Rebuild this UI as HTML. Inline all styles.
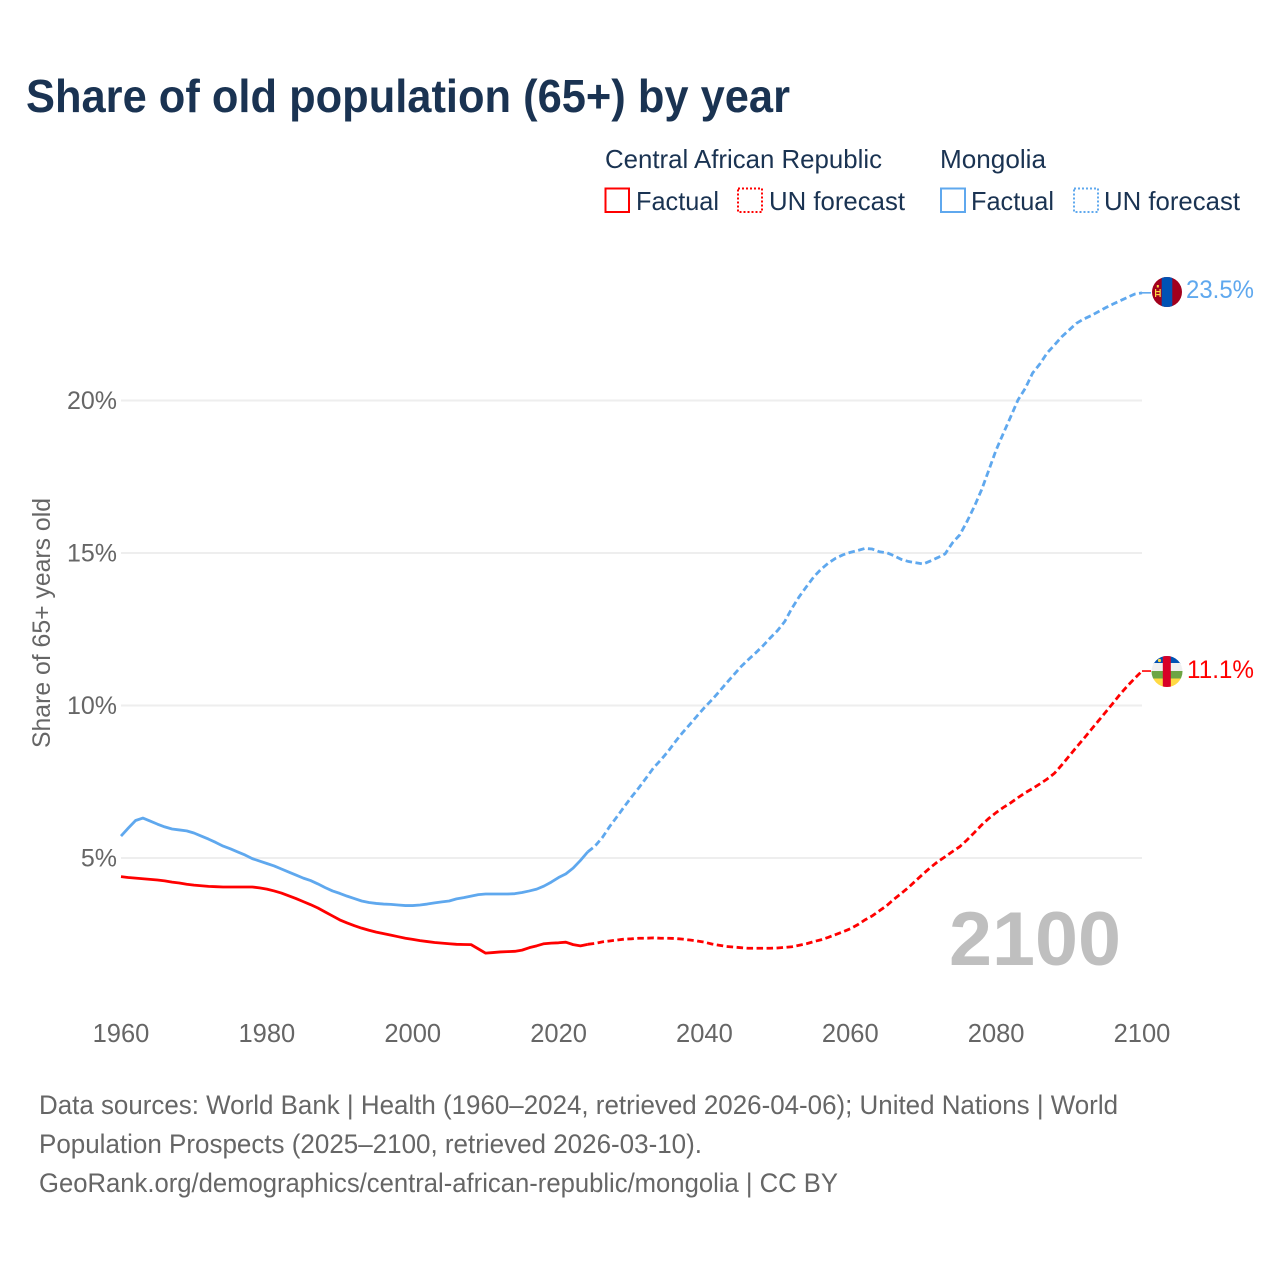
<!DOCTYPE html>
<html lang="en">
<head>
<meta charset="utf-8">
<title>Share of old population (65+) by year</title>
<style>
html,body{margin:0;padding:0;background:#fff;}
svg{display:block;}
text{font-family:"Liberation Sans",sans-serif;}
</style>
</head>
<body>
<svg id="chart" xmlns="http://www.w3.org/2000/svg" width="1280" height="1280" viewBox="0 0 1280 1280">
  <rect width="1280" height="1280" fill="#ffffff"/>
  <text x="26" y="112" font-size="46" font-weight="700" fill="#1a3352" textLength="764" lengthAdjust="spacingAndGlyphs">Share of old population (65+) by year</text>

  <g font-size="26" fill="#1a3352">
    <text x="605" y="168" textLength="277" lengthAdjust="spacingAndGlyphs">Central African Republic</text>
    <text x="940" y="168" textLength="106" lengthAdjust="spacingAndGlyphs">Mongolia</text>
    <rect x="605.5" y="188.5" width="23.5" height="23.5" fill="none" stroke="#ff0000" stroke-width="2"/>
    <text x="636" y="210" textLength="83" lengthAdjust="spacingAndGlyphs">Factual</text>
    <rect x="738" y="188.5" width="24" height="23.5" fill="none" stroke="#ff0000" stroke-width="2" stroke-dasharray="2 2"/>
    <text x="769" y="210" textLength="136" lengthAdjust="spacingAndGlyphs">UN forecast</text>
    <rect x="941" y="188.5" width="24" height="23.5" fill="none" stroke="#5fa8ee" stroke-width="2"/>
    <text x="971" y="210" textLength="83" lengthAdjust="spacingAndGlyphs">Factual</text>
    <rect x="1074" y="188.5" width="24" height="23.5" fill="none" stroke="#5fa8ee" stroke-width="2" stroke-dasharray="2 2"/>
    <text x="1104" y="210" textLength="136" lengthAdjust="spacingAndGlyphs">UN forecast</text>
  </g>

  <g id="grid"></g>
  <g id="yticks" font-size="25" fill="#666666" text-anchor="end"></g>
  <g id="xticks" font-size="25.5" fill="#666666" text-anchor="middle"></g>
  <text transform="translate(50 748) rotate(-90)" x="0" y="0" font-size="25" fill="#666666" textLength="250" lengthAdjust="spacingAndGlyphs">Share of 65+ years old</text>

  <text x="949" y="965" font-size="76" font-weight="700" fill="#bfbfbf" textLength="172" lengthAdjust="spacingAndGlyphs">2100</text>

  <g id="series"></g>

  <defs>
    <clipPath id="flag-clip-mn"><circle cx="1167" cy="292" r="15"/></clipPath>
    <clipPath id="flag-clip-cf"><circle cx="1167" cy="671.5" r="15.5"/></clipPath>
  </defs>

  <g clip-path="url(#flag-clip-mn)">
    <rect x="1150" y="275" width="34" height="34" fill="#a2001d"/>
    <rect x="1161.7" y="275" width="10.6" height="34" fill="#0052b4"/>
    <rect x="1155" y="289" width="1.2" height="8" fill="#ffda44"/>
    <rect x="1159.5" y="289" width="1.2" height="8" fill="#ffda44"/>
    <rect x="1156.2" y="291" width="3.3" height="1.2" fill="#ffda44"/>
    <rect x="1156.2" y="294" width="3.3" height="1.2" fill="#ffda44"/>
    <rect x="1156.8" y="285" width="2" height="2.5" fill="#ffda44"/>
  </g>
  <g clip-path="url(#flag-clip-cf)">
    <rect x="1150" y="655" width="34" height="9" fill="#0052b4"/>
    <rect x="1150" y="663" width="34" height="8" fill="#f0f0f0"/>
    <rect x="1150" y="671" width="34" height="8" fill="#6da544"/>
    <rect x="1150" y="678.5" width="34" height="10" fill="#ffda44"/>
    <rect x="1162.8" y="655" width="8" height="34" fill="#d80027"/>
    <circle cx="1159.5" cy="660.5" r="1.6" fill="#ffda44"/>
  </g>

  <text x="1186" y="298" font-size="25" fill="#5fa8ee" textLength="68" lengthAdjust="spacingAndGlyphs">23.5%</text>
  <text x="1187" y="678" font-size="25" fill="#ff0000" textLength="67" lengthAdjust="spacingAndGlyphs">11.1%</text>

  <g font-size="27" fill="#666666">
    <text x="39" y="1114" textLength="1079" lengthAdjust="spacingAndGlyphs">Data sources: World Bank | Health (1960–2024, retrieved 2026-04-06); United Nations | World</text>
    <text x="39" y="1153" textLength="663" lengthAdjust="spacingAndGlyphs">Population Prospects (2025–2100, retrieved 2026-03-10).</text>
    <text x="39" y="1192" textLength="799" lengthAdjust="spacingAndGlyphs">GeoRank.org/demographics/central-african-republic/mongolia | CC BY</text>
  </g>
</svg>

<script>
const yearTicks = [1960, 1980, 2000, 2020, 2040, 2060, 2080, 2100];
const percentTicks = [5, 10, 15, 20];
const factualStartYear = 1960;
const forecastStartYear = 2024;

const carFactual = [4.39,4.36,4.34,4.32,4.30,4.28,4.25,4.21,4.18,4.14,
  4.11,4.09,4.07,4.06,4.05,4.05,4.05,4.05,4.05,4.02,
  3.98,3.92,3.85,3.76,3.67,3.57,3.47,3.36,3.23,3.10,
  2.97,2.87,2.78,2.70,2.63,2.57,2.52,2.47,2.42,2.37,
  2.33,2.29,2.26,2.23,2.21,2.19,2.17,2.165,2.16,2.02,
  1.88,1.90,1.92,1.93,1.94,1.98,2.06,2.12,2.19,2.21,
  2.22,2.24,2.16,2.12,2.17];

const carForecast = [2.17,2.20,2.25,2.28,2.31,2.34,2.35,2.37,2.37,2.38,2.37,2.37,2.36,2.34,2.31,2.28,
  2.24,2.18,2.14,2.10,2.08,2.06,2.04,2.04,2.04,2.04,
  2.05,2.07,2.09,2.14,2.19,2.26,2.32,2.40,2.49,2.58,
  2.68,2.81,2.97,3.10,3.27,3.44,3.65,3.84,4.04,4.26,
  4.48,4.69,4.88,5.04,5.21,5.37,5.59,5.83,6.08,6.30,
  6.49,6.66,6.81,6.98,7.14,7.28,7.43,7.59,7.78,8.05,
  8.34,8.63,8.91,9.20,9.49,9.78,10.07,10.37,10.64,10.89,11.13];

const mongoliaFactual = [5.72,5.98,6.23,6.31,6.21,6.11,6.02,5.95,5.92,5.89,
  5.82,5.72,5.62,5.51,5.39,5.30,5.20,5.10,4.98,4.90,
  4.82,4.74,4.64,4.54,4.44,4.34,4.26,4.15,4.03,3.92,
  3.84,3.75,3.67,3.59,3.54,3.51,3.49,3.48,3.46,3.44,
  3.44,3.46,3.49,3.53,3.56,3.59,3.66,3.70,3.75,3.80,
  3.82,3.82,3.82,3.82,3.83,3.87,3.92,3.98,4.08,4.21,
  4.36,4.48,4.67,4.92,5.20];

const mongoliaForecast = [5.20,5.39,5.67,6.03,6.35,6.68,7.00,7.30,7.62,7.95,8.21,8.49,8.81,9.11,9.38,9.66,
  9.93,10.18,10.45,10.73,11.00,11.27,11.50,11.72,11.95,12.21,
  12.45,12.75,13.19,13.57,13.90,14.22,14.47,14.67,14.83,14.94,
  15.02,15.08,15.15,15.13,15.04,15.01,14.91,14.79,14.72,14.68,
  14.64,14.74,14.85,14.97,15.33,15.59,16.03,16.52,17.07,17.72,
  18.38,18.93,19.47,20.02,20.40,20.90,21.20,21.56,21.82,22.09,
  22.31,22.53,22.67,22.78,22.91,23.04,23.16,23.27,23.38,23.49,23.53];

const SVG_NS = 'http://www.w3.org/2000/svg';
function xScale(year) { return 121 + (year - 1960) * (1142 - 121) / 140; }
function yScale(pct) { return 1010.5 - 30.5 * pct; }
function linePath(values, startYear) {
  return values.map(function (v, i) {
    return (i ? 'L' : 'M') + xScale(startYear + i).toFixed(2) + ' ' + yScale(v).toFixed(2);
  }).join(' ');
}
function connectorPath(values) {
  const y = yScale(values[values.length - 1]).toFixed(2);
  return 'M' + xScale(2100).toFixed(2) + ' ' + y + ' L' + (xScale(2100) + 9) + ' ' + y;
}

const gridGroup = document.getElementById('grid');
const yTickGroup = document.getElementById('yticks');
percentTicks.forEach(function (p) {
  const line = document.createElementNS(SVG_NS, 'line');
  
  
  line.setAttribute('x1', xScale(1960));
  line.setAttribute('x2', xScale(2100));
  line.setAttribute('y1', yScale(p));
  line.setAttribute('y2', yScale(p));
  line.setAttribute('stroke', '#eeeeee');
  line.setAttribute('stroke-width', '2');
  gridGroup.appendChild(line);

  const label = document.createElementNS(SVG_NS, 'text');
  
  
  label.setAttribute('x', 117);
  label.setAttribute('y', yScale(p) + 8.5);
  label.textContent = p + '%';
  yTickGroup.appendChild(label);
});

const xTickGroup = document.getElementById('xticks');
yearTicks.forEach(function (y) {
  const label = document.createElementNS(SVG_NS, 'text');
  
  
  label.setAttribute('x', xScale(y));
  label.setAttribute('y', 1042);
  label.textContent = y;
  xTickGroup.appendChild(label);
});

const seriesGroup = document.getElementById('series');

const carFactualLine = document.createElementNS(SVG_NS, 'path');


carFactualLine.setAttribute('d', linePath(carFactual, factualStartYear));
carFactualLine.setAttribute('fill', 'none');
carFactualLine.setAttribute('stroke', '#ff0000');
carFactualLine.setAttribute('stroke-width', '2.8');
carFactualLine.setAttribute('stroke-linejoin', 'round');
seriesGroup.appendChild(carFactualLine);

const carForecastLine = document.createElementNS(SVG_NS, 'path');


carForecastLine.setAttribute('d', linePath(carForecast, forecastStartYear));
carForecastLine.setAttribute('fill', 'none');
carForecastLine.setAttribute('stroke', '#ff0000');
carForecastLine.setAttribute('stroke-width', '2.8');
carForecastLine.setAttribute('stroke-dasharray', '6.5 3.5');
seriesGroup.appendChild(carForecastLine);

const carConnector = document.createElementNS(SVG_NS, 'path');


carConnector.setAttribute('d', connectorPath(carForecast));
carConnector.setAttribute('fill', 'none');
carConnector.setAttribute('stroke', '#ff0000');
carConnector.setAttribute('stroke-width', '1.6');
seriesGroup.appendChild(carConnector);

const mongoliaFactualLine = document.createElementNS(SVG_NS, 'path');


mongoliaFactualLine.setAttribute('d', linePath(mongoliaFactual, factualStartYear));
mongoliaFactualLine.setAttribute('fill', 'none');
mongoliaFactualLine.setAttribute('stroke', '#5fa8ee');
mongoliaFactualLine.setAttribute('stroke-width', '2.8');
mongoliaFactualLine.setAttribute('stroke-linejoin', 'round');
seriesGroup.appendChild(mongoliaFactualLine);

const mongoliaForecastLine = document.createElementNS(SVG_NS, 'path');


mongoliaForecastLine.setAttribute('d', linePath(mongoliaForecast, forecastStartYear));
mongoliaForecastLine.setAttribute('fill', 'none');
mongoliaForecastLine.setAttribute('stroke', '#5fa8ee');
mongoliaForecastLine.setAttribute('stroke-width', '2.8');
mongoliaForecastLine.setAttribute('stroke-dasharray', '6.5 3.5');
seriesGroup.appendChild(mongoliaForecastLine);

const mongoliaConnector = document.createElementNS(SVG_NS, 'path');


mongoliaConnector.setAttribute('d', connectorPath(mongoliaForecast));
mongoliaConnector.setAttribute('fill', 'none');
mongoliaConnector.setAttribute('stroke', '#5fa8ee');
mongoliaConnector.setAttribute('stroke-width', '1.6');
seriesGroup.appendChild(mongoliaConnector);
</script>
</body>
</html>
